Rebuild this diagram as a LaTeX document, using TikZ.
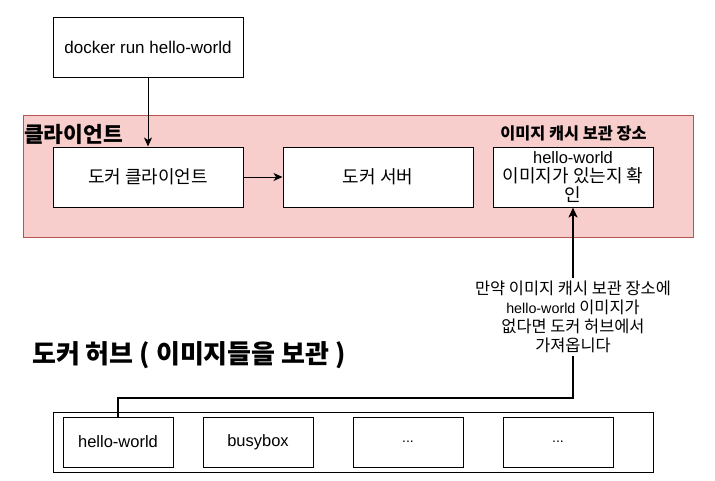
\documentclass[tikz,border=0pt]{standalone}
\usepackage{fontspec}
\setmainfont{Liberation Sans}
\newfontfamily\kr{Noto Sans CJK KR}
\usetikzlibrary{arrows.meta}
\definecolor{pinkfill}{HTML}{F8CECC}
\definecolor{pinkline}{HTML}{B85450}
\newcommand{\krb}[1]{{\kr\fontsize{18}{19.2}\selectfont #1}}
\newcommand{\krl}[1]{{\kr\fontsize{16.4}{18.9}\selectfont #1}}
\begin{document}
\begin{tikzpicture}[x=1pt,y=-1pt,
  box/.style={draw=black, line width=1pt, fill=white, minimum width=190pt, minimum height=60pt, inner sep=0pt, align=center, font=\fontsize{16.5}{19.2}\selectfont},
  hubbox/.style={draw=black, line width=1pt, fill=white, minimum width=110pt, minimum height=50pt, inner sep=0pt, align=center, font=\fontsize{16.5}{19}\selectfont},
  conn/.style={line width=1pt, -{Stealth[length=9pt,width=8pt,inset=2.5pt]}},
  thickconn/.style={line width=2pt, -{Stealth[length=10pt,width=9pt,inset=2.5pt]}}
]
\useasboundingbox (0,0) rectangle (715,480);

% client container
\node[draw=pinkline, fill=pinkfill, line width=1pt, minimum width=670pt, minimum height=122pt, inner sep=0pt] (client) at (358,176) {};
\node[anchor=west, inner sep=0pt, font=\kr\bfseries\fontsize{21.5}{24}\selectfont] (clienttitle) at (24,134) {클라이언트};
\node[inner sep=0pt, font=\kr\bfseries\fontsize{16.3}{18}\selectfont] (cachetitle) at (573.5,133.5) {이미지 캐시 보관 장소};

% boxes
\node[box, font=\fontsize{17}{19}\selectfont] (run) at (148,47) {docker run hello-world};
\node[box] (dclient) at (148,177) {\krb{도커 클라이언트}};
\node[box] (dserver) at (378,177) {\krb{도커 서버}};
\node[box, minimum width=160pt] (chk) at (573,177) {hello-world\\\krb{이미지가 있는지 확}\\\krb{인}};

% hub
\node[inner sep=0pt, font=\kr\bfseries\fontsize{26}{30}\selectfont] (hubtitle) at (189,355) {도커 허브 ( 이미지들을 보관 )};
\node[draw=black, line width=1pt, minimum width=600pt, minimum height=60pt, inner sep=0pt] (hub) at (353,442) {};
\node[hubbox] (hw) at (118,442) {hello-world};
\node[hubbox] (bb) at (258,442) {busybox};
\node[hubbox, font=\fontsize{14}{17}\selectfont] (d1) at (408,442) {...};
\node[hubbox, font=\fontsize{14}{17}\selectfont] (d2) at (558,442) {...};

% connectors
\draw[conn] (run.south) -- (dclient.north);
\draw[conn] (dclient.east) -- (dserver.west);
\coordinate (bend) at (118,397.5);
\draw[thickconn] (hw.north) -- (bend) -| (chk.south);

% label
\node[fill=white, inner xsep=1pt, inner ysep=3pt, align=center, font=\fontsize{14.3}{18.9}\selectfont] (lbl) at (573,317) {\krl{만약 이미지 캐시 보관 장소에}\\hello-world \krl{이미지가}\\\krl{없다면 도커 허브에서}\\\krl{가져옵니다}};
\end{tikzpicture}
\end{document}
